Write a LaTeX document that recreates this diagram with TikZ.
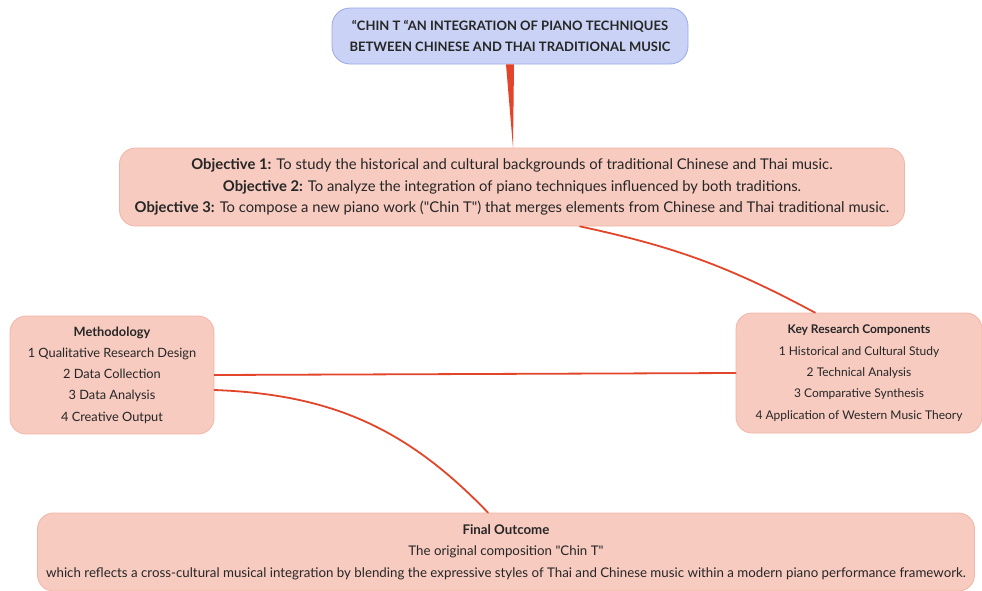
\documentclass[tikz,border=0pt]{standalone}
\usepackage{fontspec}
\setmainfont{Lato}
\usepackage{tikz}
\usetikzlibrary{calc}
\definecolor{topfill}{HTML}{CAD3F6}
\definecolor{topline}{HTML}{9AA8E6}
\definecolor{boxfill}{HTML}{F7CBC0}
\definecolor{boxline}{HTML}{F2B5A6}
\definecolor{linkred}{HTML}{E2452A}
\definecolor{txt}{HTML}{262626}
\tikzset{
	topbox/.style={draw=topline,fill=topfill,rounded corners=18pt,line width=0.8pt,align=center,text=txt,font=\fontsize{13}{21}\selectfont\bfseries},
	pinkbox/.style={draw=boxline,fill=boxfill,rounded corners=16pt,line width=0.8pt,align=center,text=txt,inner sep=0pt},
	link/.style={draw=linkred,line width=1.8pt,line cap=round}
}
\begin{document}
\begin{tikzpicture}[x=1pt,y=-1pt,line join=round]
		\useasboundingbox (0,0) rectangle (982,590);
		\node[topbox,minimum width=356pt,minimum height=56pt] (title) at (510,36) {``CHIN T ``AN INTEGRATION OF PIANO TECHNIQUES\\BETWEEN CHINESE AND THAI TRADITIONAL MUSIC};
		\node[pinkbox,minimum width=785pt,minimum height=78pt,font=\fontsize{14.8}{21.3}\selectfont] (obj) at (512,187) {\textbf{Objective 1:} To study the historical and cultural backgrounds of traditional Chinese and Thai music.\\\textbf{Objective 2:} To analyze the integration of piano techniques influenced by both traditions.\\\textbf{Objective 3:} To compose a new piano work (\textquotedbl Chin T\textquotedbl) that merges elements from Chinese and Thai traditional music.};
		\node[pinkbox,minimum width=204pt,minimum height=118pt,font=\fontsize{12.8}{21.3}\selectfont] (method) at (112,375) {\textbf{Methodology}\\1 Qualitative Research Design\\2 Data Collection\\3 Data Analysis\\4 Creative Output};
		\node[pinkbox,minimum width=246pt,minimum height=120pt,font=\fontsize{12}{21.3}\selectfont] (key) at (859,373) {\textbf{Key Research Components}\\1 Historical and Cultural Study\\2 Technical Analysis\\3 Comparative Synthesis\\4 Application of Western Music Theory};
		\node[pinkbox,minimum width=937pt,minimum height=78pt,font=\fontsize{13.3}{21.3}\selectfont] (final) at (506,552) {\textbf{Final Outcome}\\The original composition \textquotedbl Chin T\textquotedbl\\which reflects a cross-cultural musical integration by blending the expressive styles of Thai and Chinese music within a modern piano performance framework.};
		% connectors
		\fill[linkred] ($(title.south)+(-4,0)$) -- ($(title.south)+(4,0)$) -- ($(obj.north)+(1,0)$) -- cycle;
		\draw[link] ($(obj.south)+(68,0)$) to[bend left=8] ($(key.north)+(-44,0)$);
		\draw[link] (method.east) -- (key.west);
		\draw[link] ($(method.east)+(0,15)$) to[bend left=22] ($(final.north)+(-18,0)$);
\end{tikzpicture}
\end{document}
